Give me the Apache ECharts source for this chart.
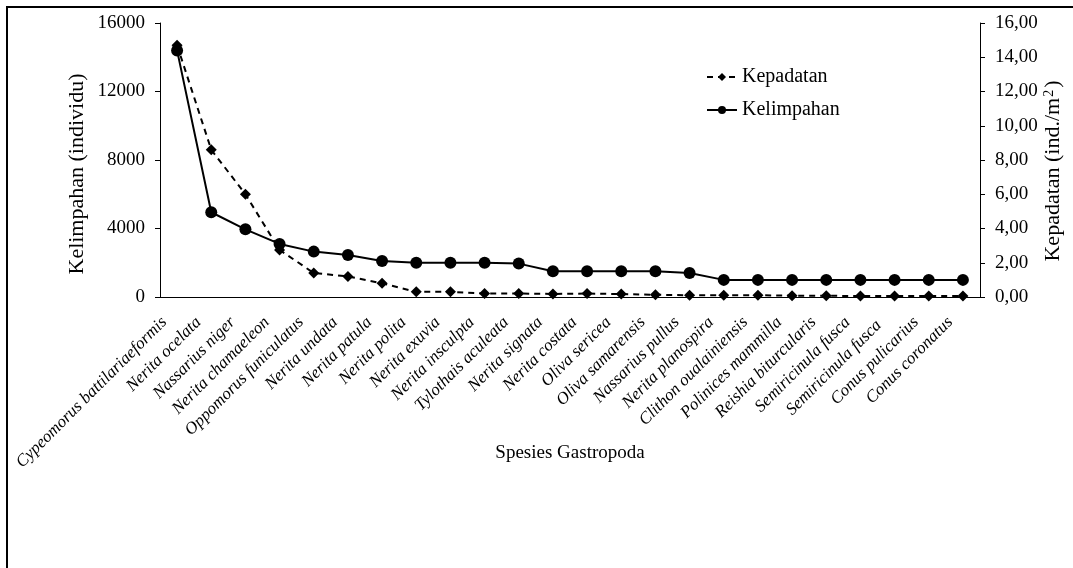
<!DOCTYPE html>
<html lang="en">
<head>
    <meta charset="utf-8">
    <title>Kelimpahan dan Kepadatan Gastropoda</title>
    <style>
        body { margin: 0; background: #fff; }
        #frame { position: absolute; left: 6px; top: 6px; width: 1067px; height: 562px;
                 border-left: 2px solid #000; border-top: 2px solid #000; box-sizing: border-box; }
        #main { position: absolute; left: 0; top: 0; width: 1073px; height: 568px; }
    </style>
</head>
<body>
    <div id="frame"></div>
    <div id="main"></div>
    <script src="https://cdn.jsdelivr.net/npm/echarts@6/dist/echarts.min.js"></script>
    <script type="text/javascript">
        var species = ['Cypeomorus battilariaeformis', 'Nerita ocelata', 'Nassarius niger', 'Nerita chamaeleon',
            'Oppomorus funiculatus', 'Nerita undata', 'Nerita patula', 'Nerita polita', 'Nerita exuvia',
            'Nerita insculpta', 'Tylothais aculeata', 'Nerita signata', 'Nerita costata', 'Oliva sericea',
            'Oliva samarensis', 'Nassarius pullus', 'Nerita planospira', 'Clithon oualainiensis',
            'Polinices mammilla', 'Reishia biturcularis', 'Semiricinula fusca', 'Semiricinula fusca ',
            'Conus pulicarius', 'Conus coronatus'];

        // Kelimpahan (individu) - left axis
        var kelimpahan = [14400, 4950, 3950, 3100, 2650, 2450, 2100, 2000, 2000, 2000, 1950, 1500,
            1500, 1500, 1500, 1400, 1000, 1000, 1000, 1000, 1000, 1000, 1000, 1000];

        // Kepadatan (ind./m2) - right axis
        var kepadatan = [14.7, 8.6, 6.0, 2.75, 1.4, 1.2, 0.8, 0.3, 0.3, 0.2, 0.2, 0.18,
            0.2, 0.17, 0.13, 0.1, 0.1, 0.1, 0.08, 0.07, 0.06, 0.06, 0.06, 0.06];

        var leftTicks = [0, 4000, 8000, 12000, 16000];
        var rightTicks = [0, 2, 4, 6, 8, 10, 12, 14, 16];

        var font = '"Liberation Serif", "Times New Roman", serif';
        var myChart = echarts.init(document.getElementById('main'));

        var option = {
            animation: false,
            textStyle: { fontFamily: font, color: '#000' },
            grid: { left: 160, right: 93, top: 23, bottom: 271, containLabel: false, outerBoundsMode: 'none' },
            legend: {
                orient: 'vertical',
                left: 706,
                top: 67,
                padding: 0,
                itemGap: 13,
                itemWidth: 30,
                itemHeight: 10,
                data: ['Kepadatan', 'Kelimpahan'],
                textStyle: { fontFamily: font, fontSize: 20, color: '#000' }
            },
            xAxis: {
                type: 'category',
                data: species,
                boundaryGap: true,
                name: 'Spesies Gastropoda',
                nameLocation: 'middle',
                nameGap: 147,
                nameMoveOverlap: false,
                nameTextStyle: { fontFamily: font, fontSize: 19, color: '#000' },
                axisLine: { lineStyle: { color: '#000', width: 1 } },
                axisTick: { length: 5, lineStyle: { color: '#000' } },
                axisLabel: {
                    interval: 0,
                    rotate: 45,
                    margin: 10,
                    padding: [0, 18, 0, 0],
                    fontFamily: font,
                    fontStyle: 'italic',
                    fontSize: 17,
                    color: '#000'
                }
            },
            yAxis: [{
                type: 'value',
                min: leftTicks[0],
                max: leftTicks[leftTicks.length - 1],
                interval: leftTicks[1] - leftTicks[0],
                name: 'Kelimpahan (individu)',
                nameLocation: 'middle',
                nameRotate: 90,
                nameGap: 72,
                nameMoveOverlap: false,
                nameTruncate: { maxWidth: 600 },
                nameTextStyle: { fontFamily: font, fontSize: 22, color: '#000', padding: [0, 28, 0, 0] },
                splitLine: { show: false },
                axisLine: { show: true, lineStyle: { color: '#000', width: 1 } },
                axisTick: { show: true, length: 5, lineStyle: { color: '#000' } },
                axisLabel: {
                    fontFamily: font, fontSize: 19, color: '#000', margin: 15,
                    formatter: function (v) { return String(v); }
                }
            }, {
                type: 'value',
                position: 'right',
                min: rightTicks[0],
                max: rightTicks[rightTicks.length - 1],
                interval: rightTicks[1] - rightTicks[0],
                name: 'Kepadatan (ind./m{sup|2})',
                nameLocation: 'middle',
                nameRotate: 90,
                nameGap: 62,
                nameMoveOverlap: false,
                nameTruncate: { maxWidth: 600 },
                nameTextStyle: {
                    fontFamily: font, fontSize: 22, color: '#000', padding: [0, 22, 0, 0],
                    rich: { sup: { fontFamily: font, fontSize: 14, verticalAlign: 'top', padding: [0, 2, 8, 1] } }
                },
                splitLine: { show: false },
                axisLine: { show: true, lineStyle: { color: '#000', width: 1 } },
                axisTick: { show: true, length: 5, lineStyle: { color: '#000' } },
                axisLabel: {
                    fontFamily: font, fontSize: 19, color: '#000', margin: 15,
                    formatter: function (v) { return v.toFixed(2).replace('.', ','); }
                }
            }],
            series: [{
                name: 'Kepadatan',
                type: 'line',
                yAxisIndex: 1,
                data: kepadatan,
                symbol: 'diamond',
                symbolSize: 11,
                itemStyle: { color: '#000' },
                lineStyle: { color: '#000', width: 2, type: [6, 5] }
            }, {
                name: 'Kelimpahan',
                type: 'line',
                yAxisIndex: 0,
                data: kelimpahan,
                symbol: 'circle',
                symbolSize: 12,
                itemStyle: { color: '#000' },
                lineStyle: { color: '#000', width: 2 }
            }]
        };
        myChart.setOption(option);
    </script>
</body>
</html>
